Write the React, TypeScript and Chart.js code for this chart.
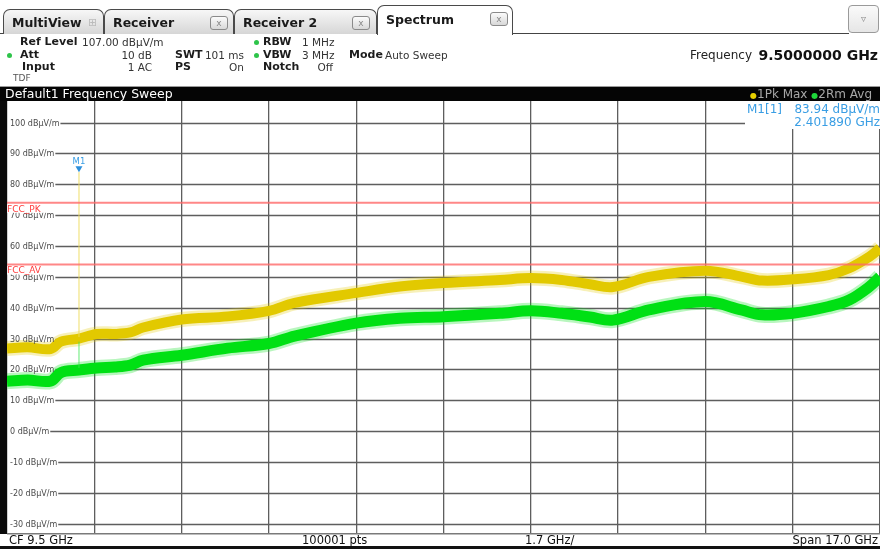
import React, { useEffect, useRef } from "react";
import { Chart, registerables } from "chart.js";

Chart.register(...registerables);

// ---------- data ----------
const freqGHz = [1.0, 1.4, 1.85, 2.05, 2.4, 2.75, 3.1, 3.4, 3.65, 4.4, 5.3, 6.1, 6.6, 7.8, 8.65, 9.5, 10.6, 11.2, 11.8, 12.35, 12.8, 13.5, 14.6, 15.3, 15.7, 16.3, 17.0, 17.4, 17.8, 18.0];
const pkMax = [26.8, 27.2, 26.6, 29.0, 30.0, 31.5, 31.5, 32.0, 33.6, 36.2, 37.2, 39.0, 41.6, 44.8, 46.9, 48.0, 49.0, 49.6, 49.0, 47.6, 46.7, 50.0, 52.0, 50.1, 48.8, 49.2, 50.6, 52.8, 56.6, 59.3];
const rmAvg = [16.2, 16.6, 16.2, 19.0, 19.8, 20.5, 20.8, 21.4, 23.0, 24.6, 26.9, 28.4, 30.8, 35.0, 36.6, 37.1, 38.2, 39.0, 38.2, 37.0, 36.0, 39.3, 42.0, 39.3, 37.7, 38.2, 40.4, 42.5, 46.9, 50.0];

const xTicksGHz = [1.0, 2.7, 4.4, 6.1, 7.8, 9.5, 11.2, 12.9, 14.6, 16.3, 18.0];
const yTicksDb = [100, 90, 80, 70, 60, 50, 40, 30, 20, 10, 0, -10, -20, -30];
const refLevel = 107;
const bottomLevel = -33;
const startGHz = 1.0;
const stopGHz = 18.0;

const limitNames = ["FCC_PK", "FCC_AV"];
const limitValues = [74, 54];

const markerFreq = 2.40189;
const markerLevel = 83.94;
const spikePk = [30.5, 83.94];
const spikeAvg = [20.5, 29.0];

// ---------- styles ----------
const FONT = '"DejaVu Sans", Verdana, sans-serif';
const GRID = "#5e5e5e";
const YELLOW = "#e2c900";
const GREEN = "#00e014";
const BLUE = "#3a9ee4";

const yLabel = (v: number) => `${v} dBµV/m`;

const rsPlugin = {
  id: "rsDecor",
  beforeDatasetsDraw(chart: any) {
    const { ctx, chartArea: ca } = chart;
    const y = chart.scales.y;
    ctx.save();
    ctx.font = `8px ${FONT}`;
    ctx.strokeStyle = GRID;
    ctx.lineWidth = 1.3;
    for (const v of yTicksDb) {
      const py = Math.round(y.getPixelForValue(v)) + 0.5;
      const w = ctx.measureText(yLabel(v)).width;
      ctx.beginPath();
      ctx.moveTo(ca.left + 3 + w + 1, py);
      ctx.lineTo(ca.right, py);
      ctx.stroke();
    }
    ctx.restore();
  },
  afterDatasetsDraw(chart: any) {
    const { ctx, chartArea: ca } = chart;
    const x = chart.scales.x;
    const y = chart.scales.y;
    ctx.save();
    // y labels
    ctx.font = `8px ${FONT}`;
    ctx.fillStyle = "#4a4a4a";
    ctx.textBaseline = "middle";
    ctx.textAlign = "left";
    for (const v of yTicksDb) {
      ctx.fillText(yLabel(v), ca.left + 3, Math.round(y.getPixelForValue(v)) + 0.5);
    }
    // limit labels
    limitNames.forEach((name, i) => {
      const py = y.getPixelForValue(limitValues[i]);
      ctx.fillStyle = "#ffffff";
      ctx.fillRect(ca.left, py + 1.5, 56, 8.5);
      ctx.fillStyle = "#ff3b3b";
      ctx.font = `9px ${FONT}`;
      ctx.textBaseline = "top";
      ctx.textAlign = "left";
      ctx.fillText(name, ca.left, py + 2);
    });
    // marker
    const mx = x.getPixelForValue(markerFreq);
    const my = y.getPixelForValue(markerLevel);
    ctx.fillStyle = "#2b8fdc";
    ctx.beginPath();
    ctx.moveTo(mx - 3.5, my - 6);
    ctx.lineTo(mx + 3.5, my - 6);
    ctx.lineTo(mx, my);
    ctx.closePath();
    ctx.fill();
    ctx.font = `8.5px ${FONT}`;
    ctx.textAlign = "center";
    ctx.textBaseline = "alphabetic";
    ctx.fillStyle = BLUE;
    ctx.fillText("M1", mx, my - 8.5);
    // marker info box
    const bx = ca.right - 135;
    ctx.fillStyle = "#ffffff";
    ctx.fillRect(bx, ca.top, ca.right - bx, 28);
    ctx.fillStyle = BLUE;
    ctx.font = `12px ${FONT}`;
    ctx.textBaseline = "middle";
    ctx.textAlign = "left";
    ctx.fillText("M1[1]", bx + 2, ca.top + 8.5);
    ctx.textAlign = "right";
    ctx.fillText(`${markerLevel.toFixed(2)} dBµV/m`, ca.right, ca.top + 8.5);
    ctx.fillText(`${markerFreq.toFixed(6)} GHz`, ca.right, ca.top + 22);
    // bottom border
    ctx.fillStyle = "#7a7a7a";
    ctx.fillRect(ca.left, ca.bottom, ca.right - ca.left, 1.5);
    ctx.restore();
  },
};

type TProps = {
  x: number;
  y: number;
  children: React.ReactNode;
  bold?: boolean;
  size?: number;
  color?: string;
  align?: "left" | "right";
};

const T = ({ x, y, children, bold = false, size = 10.5, color = "#1c1c1c", align = "left" }: TProps) => {
  const style: React.CSSProperties = {
    position: "absolute",
    top: y - 8,
    height: 16,
    lineHeight: "16px",
    fontSize: size,
    fontWeight: bold ? "bold" : "normal",
    color,
    whiteSpace: "nowrap",
    fontFamily: FONT,
  };
  if (align === "right") style.right = 880 - x;
  else style.left = x;
  return <div style={style}>{children}</div>;
};

const Dot = ({ x, y, color = "#2ec44a", size = 5 }: { x: number; y: number; color?: string; size?: number }) => (
  <div
    style={{
      position: "absolute",
      left: x - size / 2,
      top: y - size / 2,
      width: size,
      height: size,
      borderRadius: "50%",
      background: color,
    }}
  />
);

const CloseBox = ({ left, top }: { left: number; top: number }) => (
  <div
    style={{
      position: "absolute",
      left,
      top,
      width: 18,
      height: 14,
      boxSizing: "border-box",
      border: "1px solid #8a8a8a",
      borderRadius: 3,
      background: "linear-gradient(#fbfbfb, #d8d8d8)",
      fontSize: 9,
      lineHeight: "12px",
      textAlign: "center",
      color: "#888",
      fontFamily: FONT,
    }}
  >
    x
  </div>
);

type TabProps = {
  left: number;
  top: number;
  width: number;
  height: number;
  label: string;
  active?: boolean;
  close?: number;
  icon?: boolean;
};

const Tab = ({ left, top, width, height, label, active = false, close, icon }: TabProps) => (
  <div
    style={{
      position: "absolute",
      left,
      top,
      width,
      height,
      boxSizing: "border-box",
      border: "1px solid #4a4a4a",
      borderBottom: "none",
      borderRadius: "7px 7px 0 0",
      background: active ? "#ffffff" : "linear-gradient(#f7f7f7, #d6d6d6)",
    }}
  >
    <div
      style={{
        position: "absolute",
        left: 8,
        top: active ? 0 : 1,
        lineHeight: `${height - 2}px`,
        fontSize: 12.5,
        fontWeight: "bold",
        fontFamily: FONT,
        color: "#1a1a1a",
        whiteSpace: "nowrap",
      }}
    >
      {label}
    </div>
    {icon && (
      <div
        style={{
          position: "absolute",
          left: 84,
          top: 1,
          lineHeight: `${height - 2}px`,
          fontSize: 11,
          color: "#bbbbbb",
          fontFamily: FONT,
        }}
      >
        ⊞
      </div>
    )}
    {close !== undefined && <CloseBox left={close} top={active ? 6 : 6} />}
  </div>
);

export default function App() {
  const canvasRef = useRef<HTMLCanvasElement | null>(null);

  useEffect(() => {
    document.body.style.margin = "0";
    const canvas = canvasRef.current;
    if (!canvas) return;
    const pts = (ys: number[]) => freqGHz.map((f, i) => ({ x: f, y: ys[i] }));
    const vline = (f: number, ys: number[]) => ys.map((v) => ({ x: f, y: v }));
    const hline = (v: number) => [
      { x: startGHz, y: v },
      { x: stopGHz, y: v },
    ];
    const chart = new Chart(canvas, {
      type: "line",
      data: {
        datasets: [
          { data: pts(pkMax), borderColor: "rgba(226,201,0,0.28)", borderWidth: 15, tension: 0.35, order: 6, clip: 0 } as any,
          { data: pts(pkMax), borderColor: YELLOW, borderWidth: 10, tension: 0.35, order: 5, clip: 0 } as any,
          { data: pts(rmAvg), borderColor: "rgba(0,224,20,0.28)", borderWidth: 16, tension: 0.35, order: 4, clip: 0 } as any,
          { data: pts(rmAvg), borderColor: GREEN, borderWidth: 11, tension: 0.35, order: 3, clip: 0 } as any,
          { data: vline(markerFreq, spikePk), borderColor: "rgba(238,218,90,0.9)", borderWidth: 1, order: 2, clip: 0 } as any,
          { data: vline(markerFreq, spikeAvg), borderColor: "rgba(60,230,80,0.8)", borderWidth: 1, order: 2, clip: 0 } as any,
          ...limitValues.map(
            (v) =>
              ({
                data: hline(v),
                borderColor: "rgba(255,105,105,0.8)",
                borderWidth: 2,
                order: 0,
                clip: 0,
              } as any)
          ),
        ],
      },
      options: {
        animation: false,
        responsive: false,
        maintainAspectRatio: false,
        parsing: false as any,
        normalized: true,
        layout: { padding: { left: 7, top: 101, right: 0, bottom: 16 } },
        elements: { point: { radius: 0, hoverRadius: 0 } },
        plugins: { legend: { display: false }, tooltip: { enabled: false } },
        events: [],
        scales: {
          x: {
            type: "linear",
            min: startGHz,
            max: stopGHz,
            afterBuildTicks: (s: any) => {
              s.ticks = xTicksGHz.map((v) => ({ value: v }));
            },
            afterFit: (s: any) => {
              s.height = 0;
            },
            ticks: { display: false },
            grid: { color: GRID, lineWidth: 1.3, drawTicks: false },
            border: { display: false },
          },
          y: {
            type: "linear",
            min: bottomLevel,
            max: refLevel,
            afterBuildTicks: (s: any) => {
              s.ticks = yTicksDb.map((v) => ({ value: v }));
            },
            afterFit: (s: any) => {
              s.width = 0;
            },
            ticks: { display: false },
            grid: { display: false },
            border: { display: false },
          },
        },
      },
      plugins: [rsPlugin as any],
    });
    return () => chart.destroy();
  }, []);

  return (
    <div
      style={{
        position: "relative",
        width: 880,
        height: 549,
        overflow: "hidden",
        background: "#ffffff",
        fontFamily: FONT,
      }}
    >
      <canvas ref={canvasRef} width={880} height={549} style={{ position: "absolute", left: 0, top: 0 }} />

      {/* tab strip */}
      <div style={{ position: "absolute", left: 0, top: 33, width: 378, height: 1, background: "#444" }} />
      <div style={{ position: "absolute", left: 512, top: 33, width: 337, height: 1, background: "#444" }} />
      <Tab left={3} top={9} width={101} height={25} label="MultiView" icon />
      <Tab left={104} top={9} width={130} height={25} label="Receiver" close={105} />
      <Tab left={234} top={9} width={143} height={25} label="Receiver 2" close={117} />
      <Tab left={377} top={5} width={136} height={30} label="Spectrum" active close={112} />
      <div
        style={{
          position: "absolute",
          left: 848,
          top: 5,
          width: 31,
          height: 28,
          boxSizing: "border-box",
          border: "1px solid #9a9a9a",
          borderRadius: 4,
          background: "linear-gradient(#fafafa, #e6e6e6)",
          textAlign: "center",
          lineHeight: "26px",
          fontSize: 10,
          color: "#8a8a8a",
        }}
      >
        ▿
      </div>

      {/* info rows */}
      <T x={20} y={42} bold size={11}>Ref Level</T>
      <T x={82} y={42} color="#333">107.00 dBµV/m</T>
      <Dot x={256} y={42} />
      <T x={263} y={42} bold size={11}>RBW</T>
      <T x={302} y={42} color="#333">1 MHz</T>

      <Dot x={9} y={55} />
      <T x={20} y={55} bold size={11}>Att</T>
      <T x={152} y={55} color="#333" align="right">10 dB</T>
      <T x={175} y={55} bold size={11}>SWT</T>
      <T x={244} y={55} color="#333" align="right">101 ms</T>
      <Dot x={256} y={55} />
      <T x={263} y={55} bold size={11}>VBW</T>
      <T x={302} y={55} color="#333">3 MHz</T>
      <T x={349} y={55} bold size={11}>Mode</T>
      <T x={385} y={55} color="#333">Auto Sweep</T>

      <T x={22} y={67} bold size={11}>Input</T>
      <T x={152} y={67} color="#333" align="right">1 AC</T>
      <T x={175} y={67} bold size={11}>PS</T>
      <T x={244} y={67} color="#333" align="right">On</T>
      <T x={263} y={67} bold size={11}>Notch</T>
      <T x={333} y={67} color="#333" align="right">Off</T>

      <T x={13} y={78} size={9} color="#555">TDF</T>

      <T x={690} y={55} size={12} color="#222">Frequency</T>
      <T x={878} y={55} size={14} bold color="#111" align="right">9.5000000 GHz</T>

      {/* sweep title bar */}
      <div style={{ position: "absolute", left: 0, top: 86, width: 880, height: 1, background: "#9a9a9a" }} />
      <div style={{ position: "absolute", left: 0, top: 87, width: 880, height: 14, background: "#050505" }} />
      <T x={5} y={94} size={12.5} color="#ffffff">Default1 Frequency Sweep</T>
      <div
        style={{
          position: "absolute",
          right: 8,
          top: 86,
          height: 16,
          lineHeight: "16px",
          fontSize: 12,
          color: "#a8a8a8",
          whiteSpace: "nowrap",
          fontFamily: FONT,
        }}
      >
        <span style={{ color: "#e8d000", fontSize: 8 }}>●</span>1Pk Max{" "}
        <span style={{ color: "#1ed83a", fontSize: 8 }}>●</span>2Rm Avg
      </div>

      {/* left plot border */}
      <div style={{ position: "absolute", left: 0, top: 101, width: 7, height: 433, background: "#0a0a0a" }} />

      {/* footer */}
      <T x={9} y={540} size={11.5} color="#111">CF 9.5 GHz</T>
      <T x={302} y={540} size={11.5} color="#111">100001 pts</T>
      <T x={525} y={540} size={11.5} color="#111">1.7 GHz/</T>
      <T x={878} y={540} size={11.5} color="#111" align="right">Span 17.0 GHz</T>
      <div style={{ position: "absolute", left: 0, top: 546, width: 880, height: 3, background: "#111" }} />
    </div>
  );
}
